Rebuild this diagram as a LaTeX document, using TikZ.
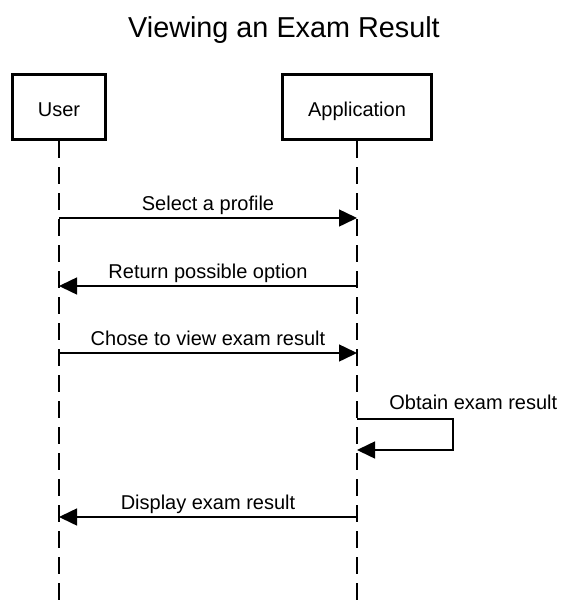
\documentclass[tikz,border=0pt]{standalone}
\usepackage{fontspec}
\setmainfont{Liberation Sans}
\usetikzlibrary{arrows.meta}
\tikzset{
  actor/.style={draw, line width=1.5pt, minimum height=32.5pt, inner sep=0pt, text height=9.7pt, text depth=0pt, font=\fontsize{10}{12}\selectfont},
  lifeline/.style={line width=0.75pt, dash pattern=on 8.5pt off 4.5pt},
  msg/.style={line width=0.75pt, -{Triangle[length=9pt,width=8.5pt]}},
  msglabel/.style={font=\fontsize{10}{12}\selectfont, text depth=0pt, inner sep=0pt, above=3.5pt},
}
\begin{document}
\begin{tikzpicture}[x=0.5pt,y=-0.5pt]
\useasboundingbox (0,0) rectangle (568,600);
\node[font=\fontsize{14.4}{17}\selectfont] (title) at (284,30) {Viewing an Exam Result};
\node[actor, minimum width=46.5pt] (user) at (59,107) {User};
\node[actor, minimum width=74.5pt] (app) at (357,107) {Application};
\coordinate (userend) at (59,600);
\coordinate (append) at (357,600);
\draw[lifeline] (user) -- (userend);
\draw[lifeline] (app) -- (append);
% messages
\coordinate (u1) at (59,218); \coordinate (a1) at (357,218);
\coordinate (u2) at (59,286); \coordinate (a2) at (357,286);
\coordinate (u3) at (59,353); \coordinate (a3) at (357,353);
\coordinate (u5) at (59,517); \coordinate (a5) at (357,517);
\draw[msg] (u1) -- (a1) node[msglabel, midway] (m1) {Select a profile};
\draw[msg] (a2) -- (u2) node[msglabel, midway] (m2) {Return possible option};
\draw[msg] (u3) -- (a3) node[msglabel, midway] (m3) {Chose to view exam result};
% self call
\coordinate (s1) at (357,419); \coordinate (s2) at (357,450);
\draw[msg] (s1) -- (453,419) -- (453,450) -- (s2);
\node[font=\fontsize{10}{12}\selectfont, anchor=base west, inner sep=0pt] (m4) at (389,409.5) {Obtain exam result};
\draw[msg] (a5) -- (u5) node[msglabel, midway] (m5) {Display exam result};
\end{tikzpicture}
\end{document}
